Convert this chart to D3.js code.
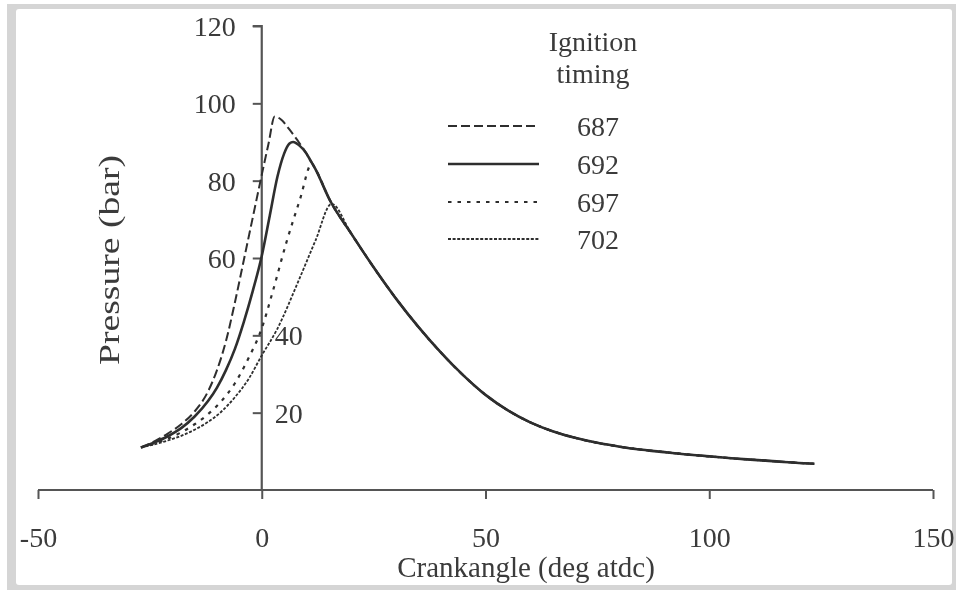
<!DOCTYPE html>
<html><head><meta charset="utf-8">
<script src="https://cdn.jsdelivr.net/npm/d3@7"></script>
<style>
html,body{margin:0;padding:0;background:#fff;}
svg{display:block;}
text{font-family:"Liberation Serif","Times New Roman",serif;fill:#3a3a3a;}
</style></head>
<body>
<svg id="chart" width="956" height="590"></svg>
<script>
// ---- data (crank angle in deg atdc, pressure in bar) ----
const xTicks = [-50, 0, 50, 100, 150];
const yTicks = [20, 40, 60, 80, 100, 120];
const legendTitle = ["Ignition", "timing"];
const timings = ["687", "692", "697", "702"];

// individual parts before the curves merge
const rise687 = [[-27,11],[-24,12.6],[-21,14.6],[-18,17],[-15,20.3],[-12,25.5],[-10,31],[-8,38.5],[-6,48.5],[-4,59.5],[-2,70.5],[0,81.5],[1.5,89.5],[2.9,96.6],[4.5,95.6],[6,93.5],[8,90.4],[10,87]];
const rise692 = [[-27,11],[-24,12.3],[-21,13.9],[-18,16],[-15,19],[-12,23],[-10,26.5],[-8,31],[-6,36.5],[-4,43.5],[-2,51.5],[0,60.5],[1.8,71],[3.5,81],[5,87],[6.2,89.6],[7,90],[8.5,89],[10,87]];
const rise697 = [[-27,11],[-24,12],[-21,13.3],[-18,14.9],[-15,17],[-12,19.6],[-9,23],[-6,27.6],[-3,34],[0,41.8],[2.5,51.5],[5.5,64],[8.5,75],[11.2,84.4]];
const rise702 = [[-27,11],[-24,11.8],[-21,12.8],[-18,14],[-15,15.6],[-12,17.6],[-9,20.3],[-6,24],[-3,28.6],[0,34.8],[3.4,41.5],[8,53.5],[12,64.5],[15.6,74]];
// common expansion curve
const expansion = [[10.7,85.6],[12,83],[15.2,75],[20,66.3],[25,57.6],[30,49.5],[35,42.2],[40,35.6],[45,29.7],[50,24.6],[55,20.6],[60,17.5],[65,15.2],[70,13.5],[75,12.2],[80,11.2],[85,10.4],[90,9.8],[95,9.2],[100,8.7],[105,8.2],[110,7.8],[115,7.4],[120,7.0],[123.5,6.8]];

const seriesRise = [rise687, rise692, rise697, rise702];
const dashes = ["9,4", null, "3.5,6", "3,1.6"];
const widths = [2, 2.6, 2.2, 1.8];

// ---- drawing ----
const svg = d3.select("#chart");
const defs = svg.append("defs");
defs.append("filter").attr("id","soft").append("feGaussianBlur").attr("stdDeviation",0.45);

// frame
svg.append("rect").attr("x",7).attr("y",4).attr("width",949).attr("height",586).attr("fill","#d5d5d5");
svg.append("rect").attr("x",16).attr("y",9).attr("width",936).attr("height",576).attr("rx",3).attr("fill","#fff");

const root = svg.append("g").attr("filter","url(#soft)");

const x = d3.scaleLinear().domain([-50,150]).range([38,933]);
const y = d3.scaleLinear().domain([0,120]).range([490,26]);
const axisColor = "#555";
const fs = 28;

// x axis
const gx = root.append("g").attr("transform",`translate(0,${y(0)})`)
  .call(d3.axisBottom(x).tickValues(xTicks).tickSize(9).tickFormat(d=>String(d)));
gx.select(".domain").attr("stroke",axisColor).attr("stroke-width",2.2).attr("d",`M${x(-50)},0H${x(150)}`);
gx.selectAll(".tick line").attr("stroke",axisColor).attr("stroke-width",2);
gx.selectAll(".tick text").attr("y",37).attr("dy","0.71em").style("font-size",fs+"px")
  .style("font-family",'"Liberation Serif",serif').attr("fill","#3a3a3a");

// y axis at x=0
const gy = root.append("g").attr("transform",`translate(${x(0)},0)`)
  .call(d3.axisLeft(y).tickValues(yTicks).tickSize(9).tickFormat(d=>String(d)));
gy.select(".domain").attr("stroke",axisColor).attr("stroke-width",2.2).attr("d",`M-9,${y(120)}H0V${y(0)}`);
gy.selectAll(".tick line").attr("stroke",axisColor).attr("stroke-width",2);
gy.selectAll(".tick text").style("font-size",fs+"px").style("font-family",'"Liberation Serif",serif')
  .attr("fill","#3a3a3a").attr("dy","0.34em")
  .each(function(d){
    const t = d3.select(this);
    if (d <= 40) { t.attr("x",13).attr("text-anchor","start"); }
    else { t.attr("x",-26).attr("text-anchor","end"); }
  });

// axis titles
root.append("text").attr("x",526).attr("y",577).attr("text-anchor","middle")
  .style("font-size","29px").text("Crankangle (deg atdc)");
root.append("text").attr("transform",`translate(119,260) rotate(-90)`).attr("text-anchor","middle")
  .attr("textLength",210).attr("lengthAdjust","spacingAndGlyphs")
  .style("font-size","29px").text("Pressure (bar)");

// curves
const line = d3.line().x(d=>x(d[0])).y(d=>y(d[1])).curve(d3.curveMonotoneX);
seriesRise.forEach((rise,i)=>{
  const last = rise[rise.length-1][0];
  const pts = rise.concat(expansion.filter(p=>p[0]>last));
  const p = root.append("path").datum(pts).attr("d",line).attr("fill","none")
    .attr("stroke","#2e2e2e").attr("stroke-width",widths[i]).attr("stroke-linejoin","round");
  if (dashes[i]) p.attr("stroke-dasharray",dashes[i]);
});

// legend
root.append("text").attr("x",593).attr("y",51).attr("text-anchor","middle").style("font-size",fs+"px").text(legendTitle[0]);
root.append("text").attr("x",593).attr("y",83).attr("text-anchor","middle").style("font-size",fs+"px").text(legendTitle[1]);
const legY = [126,164,202,239];
timings.forEach((t,i)=>{
  const l = root.append("line").attr("x1",448).attr("x2",539).attr("y1",legY[i]).attr("y2",legY[i])
    .attr("stroke","#2e2e2e").attr("stroke-width",widths[i]);
  if (dashes[i]) l.attr("stroke-dasharray",dashes[i]);
  root.append("text").attr("x",598).attr("y",legY[i]).attr("dy","0.34em").attr("text-anchor","middle")
    .style("font-size",fs+"px").text(t);
});
</script>
</body></html>
